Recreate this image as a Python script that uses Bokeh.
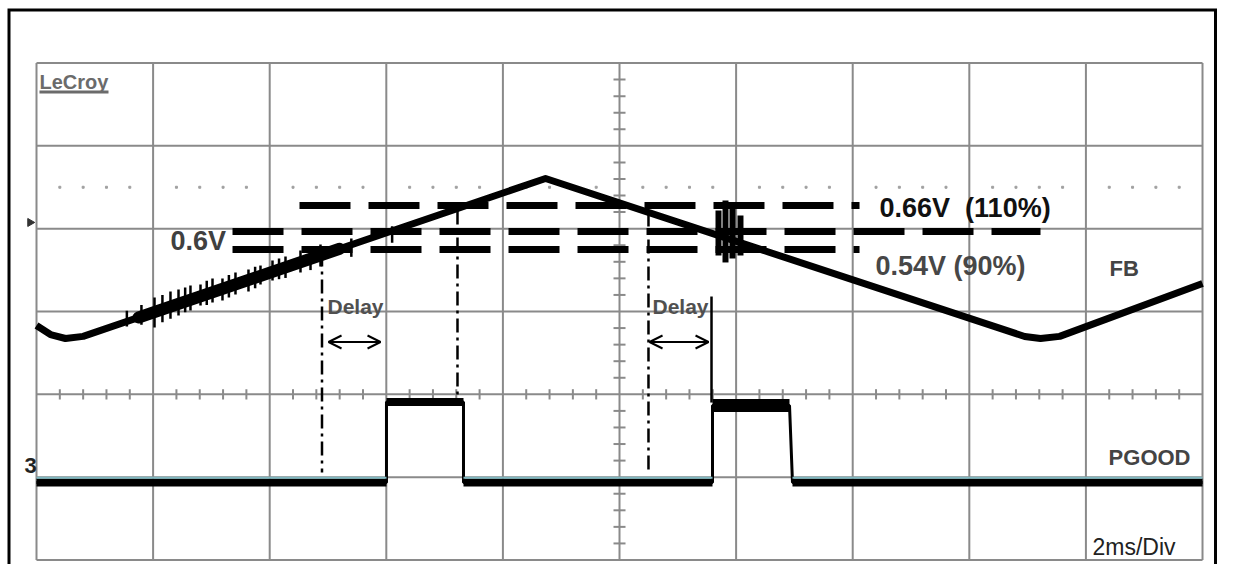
from bokeh.plotting import figure
from bokeh.models import Range1d, Arrow, OpenHead
from bokeh.core.properties import value
from bokeh.embed import file_html
from bokeh.resources import INLINE

# ---------------- data (time in ms, level in scope divisions) ----------------
# FB trace vertices
fb_t = [0.0, 0.24, 0.497, 0.80, 8.731, 16.95, 17.221, 17.55, 20.0]
fb_d = [2.831, 2.722, 2.674, 2.700, 4.606, 2.698, 2.674, 2.700, 3.338]

# noisy stretch of the FB trace (start/end points)
noise_t = [1.75, 5.2]
noise_d = [2.928, 3.757]

# FB noise spikes (t, top, bottom)
sp_t = [1.55, 1.80, 2.024, 2.16, 2.298, 2.436, 2.55, 2.641, 2.813, 2.92, 3.019, 3.190, 3.30, 3.413,
        3.636, 3.75, 3.842, 4.048, 4.16, 4.271, 4.528, 4.70, 4.871, 5.40, 6.10]
sp_top = [3.010, 3.080, 3.169, 3.200, 3.242, 3.266, 3.290, 3.314, 3.326, 3.370, 3.398, 3.398, 3.440, 3.471,
          3.508, 3.540, 3.555, 3.616, 3.640, 3.664, 3.736, 3.770, 3.809, 3.880, 4.030]
sp_bot = [2.820, 2.840, 2.807, 2.870, 2.914, 2.952, 2.990, 3.012, 3.072, 3.080, 3.109, 3.133, 3.170, 3.205,
          3.242, 3.280, 3.326, 3.374, 3.390, 3.405, 3.471, 3.500, 3.543, 3.660, 3.830]
blob_t = [11.698, 11.818, 11.938, 12.075]
blob_top = [4.219, 4.340, 4.280, 4.159]
blob_bot = [3.676, 3.592, 3.640, 3.676]

# PGOOD trace
pg_t = [0.0, 6.003, 6.003, 7.324, 7.324, 11.595, 11.595, 12.916, 12.967, 20.0]
pg_d = [0.936, 0.936, 1.907, 1.907, 0.936, 0.936, 1.865, 1.865, 0.936, 0.936]

# threshold lines: level, start, end
thr_names = ["0.66V", "0.6V", "0.54V"]
thr_d = [4.280, 3.966, 3.749]
thr_t0 = [4.511, 3.362, 3.362]
thr_t1 = [14.117, 17.221, 14.117]

# delay marker lines (dash-dot)
dl_t = [4.897, 7.221, 10.497]
dl_top = [3.712, 4.219, 4.195]
dl_bot = [1.056, 1.950, 1.068]
solid_t = 11.578
solid_top = 3.181
solid_bot = 1.901

# arrows
arr_t0 = [5.009, 10.515]
arr_t1 = [5.901, 11.527]
arr_d = 2.632

# labels
lab_text = ["0.6V", "0.66V\u00a0\u00a0(110%)", "0.54V (90%)", "FB", "PGOOD", "Delay", "Delay"]
lab_t = [2.298, 14.460, 14.391, 18.405, 19.794, 4.991, 10.566]
lab_d = [3.857, 4.244, 3.555, 3.519, 1.237, 3.060, 3.060]

# ---------------- figure ----------------
XS, XE = -0.6175, 20.257
YS, YE = -0.0543, 6.7546
p = figure(width=1217, height=564, x_range=Range1d(XS, XE), y_range=Range1d(YS, YE),
           output_backend="svg", toolbar_location=None, title=None,
           x_axis_type=None, y_axis_type=None, min_border=0)
p.grid.visible = False
p.outline_line_color = None
p.background_fill_color = "#ffffff"
p.border_fill_color = "#ffffff"

GRID = "#8a8a8a"
xdiv = list(range(0, 21, 2))
ydiv = list(range(0, 7))
p.segment(x0=xdiv, y0=[0] * len(xdiv), x1=xdiv, y1=[6] * len(xdiv), line_color=GRID, line_width=2)
p.segment(x0=[0] * len(ydiv), y0=ydiv, x1=[20] * len(ydiv), y1=ydiv, line_color=GRID, line_width=2)

# graticule minor ticks on centre vertical and on the d=2 row
vt = [i * 0.2 for i in range(1, 30) if i % 5]
p.segment(x0=[10 - 0.103] * len(vt), y0=vt, x1=[10 + 0.103] * len(vt), y1=vt, line_color=GRID, line_width=2)
ht = [i * 0.4 for i in range(1, 50) if i % 5]
p.segment(x0=ht, y0=[2 - 0.062] * len(ht), x1=ht, y1=[2 + 0.062] * len(ht), line_color=GRID, line_width=2)
# dotted row
p.scatter(x=ht, y=[4.5] * len(ht), size=2, color="#a0a0a0", marker="square")

# outer frame
p.line(x=[-0.4717, -0.4717, 20.223, 20.223], y=[-0.5, 6.640, 6.640, -0.5],
       line_color="black", line_width=3, line_join="miter")

# FB trace
p.line(fb_t, fb_d, line_color="black", line_width=7, line_join="round")
p.line(noise_t, noise_d, line_color="black", line_width=12, line_cap="round")
p.segment(x0=sp_t, y0=sp_bot, x1=sp_t, y1=sp_top, line_color="black", line_width=2.5)
p.segment(x0=blob_t, y0=blob_bot, x1=blob_t, y1=blob_top, line_color="black", line_width=6)

# PGOOD trace
p.line(pg_t, pg_d, line_color="black", line_width=3)
for i in range(len(pg_t) - 1):
    if pg_d[i] == pg_d[i + 1]:
        w = 13 if (1.0 < pg_d[i] < 1.9) else 8
        p.segment(x0=[pg_t[i]], y0=[pg_d[i]], x1=[pg_t[i + 1]], y1=[pg_d[i + 1]],
                  line_color="black", line_width=w, line_cap="butt")
        if pg_d[i] < 1.0:
            p.segment(x0=[pg_t[i]], y0=[pg_d[i] + 0.056], x1=[pg_t[i + 1]], y1=[pg_d[i] + 0.056],
                      line_color="#7fb8c0", line_width=2)

# threshold dashed lines
for d, t0, t1 in zip(thr_d, thr_t0, thr_t1):
    p.line([t0, t1], [d, d], line_color="black", line_width=7, line_dash="51 18", line_cap="butt")

# delay lines
for t, a, b in zip(dl_t, dl_top, dl_bot):
    p.line([t, t], [a, b], line_color="black", line_width=2.5, line_dash="14 5 3 5")
p.line([solid_t, solid_t], [solid_top, solid_bot], line_color="black", line_width=2.5)

for a, b in zip(arr_t0, arr_t1):
    p.add_layout(Arrow(start=OpenHead(size=13, line_width=2), end=OpenHead(size=13, line_width=2),
                       x_start=a, y_start=arr_d, x_end=b, y_end=arr_d, line_width=2))

# labels
font = value("Liberation Sans")
styles = [("27px", "#404040", "left"), ("27px", "#111111", "left"), ("27px", "#474747", "left"),
          ("22px", "#444444", "left"), ("22px", "#444444", "right"), ("21px", "#505050", "left"),
          ("21px", "#505050", "left")]
for txt, t, d, (sz, col, al) in zip(lab_text, lab_t, lab_d, styles):
    p.text(x=[t], y=[d], text=[txt], text_font=font, text_font_style="bold", text_font_size=sz,
           text_color=col, text_align=al, text_baseline="alphabetic")

p.text(x=[18.113], y=[0.151], text=["2ms/Div"], text_font=font, text_font_size="23px",
       text_color="#222222", text_align="left", text_baseline="alphabetic")

# LeCroy logo
p.text(x=[0.051], y=[5.770], text=["LeCroy"], text_font=font, text_font_style="bold",
       text_font_size="20px", text_color="#6b6b6b", text_baseline="alphabetic")
p.line([0.051, 1.235], [5.649, 5.649], line_color="#6b6b6b", line_width=3)

# channel markers
p.scatter(x=[-0.11], y=[4.075], marker="triangle", angle=-1.5708, size=8, color="#333333")
p.text(x=[-0.103], y=[1.141], text=["3"], text_font=font, text_font_style="bold", text_font_size="22px",
       text_color="#222222", text_align="center", text_baseline="middle")

open("out.html", "w").write(file_html(p, INLINE))
